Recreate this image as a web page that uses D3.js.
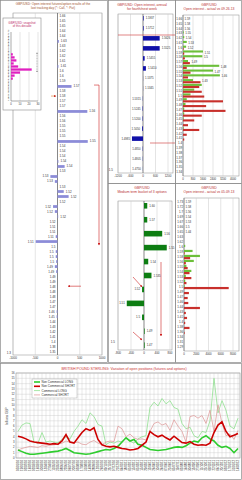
<!DOCTYPE html>
<html>
<head>
<meta charset="utf-8">
<script src="https://cdn.jsdelivr.net/npm/d3@7"></script>
<style>
body { margin: 0; background: #fff; }
svg { display: block; font-family: "Liberation Sans", Arial, sans-serif; }
</style>
</head>
<body>
<div id="T"></div>
<script>
// ---- left panel: open interest by strike of the last tracking day (call +, put -)
const leftStrikes = [
  "1.66","1.65","1.65","1.64","1.64","1.63","1.63","1.62","1.62","1.61",
  "1.61","1.6","1.6","1.59","1.57","1.58","1.58","1.57","1.57","1.56",
  "1.56","1.56","1.55","1.55","1.55","1.55","1.54","1.54","1.54","1.54",
  "1.54","1.53","1.53","1.53","1.53","1.52","1.52","1.52","1.52","1.52",
  "1.52","1.52","1.51","1.51","1.51","1.51","1.5","1.5","1.5","1.5",
  "1.49","1.49","1.49","1.49","1.48","1.48","1.48","1.47","1.47","1.46",
  "1.45","1.44","1.43","1.42","1.41","1.4","1.38","1.35"];
const leftOI = [
  0,0,0,0,0,30,0,0,0,0,
  20,0,0,0,315,0,0,0,0,670,
  0,0,0,0,0,680,0,0,0,20,
  160,0,-160,-60,0,140,250,0,-100,-60,
  15,0,0,0,-40,-490,0,-40,-40,-30,
  -60,-30,0,0,0,0,0,0,0,-20,
  -20,0,0,0,0,0,0,0];
const leftTicks = [-1000, -500, 0, 500, 1000];

// inset: snapshot of this decade
const insetLevels = ["1.72","1.7","1.68","1.66","1.64","1.62","1.6","1.58","1.56","1.54","1.52","1.5",
  "1.48","1.46","1.44","1.42","1.4","1.38","1.36","1.34","1.32","1.3","1.28"];
const insetCounts = [0,0,0,0,0,0,0,2,4,6,3,8,23,10,4,2,0,0,0,0,0,0,0];
const insetTicks = [0, 10, 20, 30];

// middle top: annual buckets
const midTopStrikes = ["1.5937","1.5712","1.5626","1.5525","1.5455","1.5410","1.5375","1.5345",
  "1.5315","1.5245","1.5200","1.5050","1.4985","1.4850","1.4805","1.4750"];
const midTopOI = [30,30,800,800,80,140,5,5,-10,-20,-20,-40,-530,-15,-10,-5];
const midTopTicks = [-1200, -600, 0, 600, 1200];

// middle bottom: medium term bucket
const midBotStrikes = ["1.60","1.57","1.56","1.55","1.54","1.535","1.52","1.51","1.5","1.49","1.47"];
const midBotOI = [100,100,560,700,130,230,-60,-530,-60,20,20];
const midBotTicks = [-800, -400, 0, 400, 800];

// right top: actual vs 09.26.13
const rtStrikes = ["1.66","1.65","1.64","1.63","1.62","1.61","1.6","1.59","1.58","1.57","1.56",
  "1.55","1.54","1.53","1.52","1.51","1.5","1.49","1.48","1.47","1.46","1.45","1.44","1.43",
  "1.42","1.41","1.4","1.39","1.38","1.37","1.36","1.35","1.34"];
const rtCalls = [0,0,0,60,100,300,250,1600,1550,400,2900,2400,2950,800,1500,900,600,300,200,100,100,50,0,50,0,0,0,0,0,0,0,0,0];
const rtPuts  = [0,0,0,0,0,0,50,100,150,550,300,600,400,1400,1300,1500,1700,3200,1850,3400,1500,900,400,1300,300,100,0,0,0,0,0,0,0];
const rtTicks = [0, 800, 1600, 2400, 3200, 4000];

// right bottom: actual vs 05.09.13
const rbStrikes = ["1.73","1.72","1.7","1.69","1.67","1.66","1.65","1.63","1.62","1.6","1.59","1.58",
  "1.56","1.55","1.54","1.53","1.52","1.5","1.49","1.47","1.46","1.44","1.43","1.41","1.4",
  "1.38","1.36","1.34","1.31","1.29"];
const rbCalls = [0,0,0,0,0,0,0,0,0,200,1400,2600,1600,400,1200,300,200,100,0,0,0,0,0,0,0,0,0,0,0,0];
const rbPuts  = [0,0,0,0,0,0,0,0,0,0,100,1000,300,600,900,1200,400,7300,800,600,700,2600,300,500,200,900,100,0,0,0];
const rbTicks = [0, 2000, 4000, 6000, 8000];

// bottom: variation of open positions (billions GBP)
const dates = ["05/01/10","19/01/10","02/02/10","16/02/10","02/03/10","16/03/10","30/03/10","13/04/10",
  "27/04/10","11/05/10","25/05/10","08/06/10","22/06/10","06/07/10","20/07/10","03/08/10","17/08/10",
  "31/08/10","14/09/10","28/09/10","12/10/10","26/10/10","09/11/10","23/11/10","07/12/10","21/12/10",
  "04/01/11","18/01/11","01/02/11","15/02/11","01/03/11","15/03/11","29/03/11","12/04/11","26/04/11",
  "10/05/11","24/05/11","07/06/11","21/06/11","05/07/11","19/07/11","02/08/11","16/08/11","30/08/11",
  "13/09/11","27/09/11","11/10/11","25/10/11","08/11/11","22/11/11","06/12/11","20/12/11","03/01/12",
  "17/01/12","31/01/12","14/02/12"];
const nonCommLong = [1.5,1.2,0.9,0.7,0.7,0.8,0.9,1.0,1.1,1.2,1.3,1.5,1.8,1.4,1.0,0.9,0.8,0.7,0.8,1.0,
  1.2,1.4,1.6,1.5,1.8,2.2,3.0,3.8,3.2,3.5,2.6,2.4,2.0,1.6,1.5,1.4,1.5,1.6,1.8,2.0,2.1,2.0,2.3,2.8,
  3.2,3.0,3.8,4.2,3.6,3.2,2.4,2.0,2.2,1.8,1.0,1.8];
const nonCommShort = [4.1,3.9,3.6,3.2,3.0,2.9,2.8,2.7,2.6,2.7,2.6,3.2,4.4,3.0,2.8,3.8,4.8,5.5,5.2,5.7,
  3.5,2.5,2.2,2.1,2.2,2.0,1.8,1.7,1.5,1.6,1.8,2.4,3.0,5.0,4.4,4.0,4.3,3.8,3.4,4.1,3.5,2.9,2.8,3.1,
  2.6,2.4,2.5,2.4,2.8,4.8,6.2,6.8,5.0,4.0,4.3,4.6];
const commLong = [5.0,6.2,6.6,6.5,3.0,2.8,4.8,3.0,3.2,3.0,2.9,3.5,4.0,3.6,5.0,6.0,7.2,6.5,8.5,7.8,
  6.3,6.0,2.5,3.0,2.8,3.2,3.0,3.8,3.2,2.8,3.6,4.0,4.2,9.5,10.5,9.8,11.2,10.2,10.8,9.5,9.2,6.5,5.5,5.8,
  4.2,3.8,5.0,4.8,7.0,15.0,8.5,10.8,9.0,6.0,5.5,7.5];
const commShort = [1.5,1.8,2.0,2.2,2.1,2.0,2.3,2.2,2.4,2.5,2.6,2.8,3.2,3.0,2.9,3.0,2.6,2.5,3.0,3.3,
  2.8,2.5,3.0,3.2,3.1,6.0,5.5,4.0,4.5,3.8,3.5,3.6,3.4,5.0,6.5,6.8,6.2,6.5,5.2,7.2,6.0,5.0,3.0,7.8,
  8.0,7.5,8.0,6.5,9.0,5.0,10.0,6.5,4.2,4.5,3.5,5.2];
const seriesNames = ["Non Commercial LONG","Non Commercial SHORT","Commercial LONG","Commercial SHORT"];
const yTicksBottom = d3.range(0, 17);

const W = 242, H = 480;
const svg = d3.select('#T').append('svg').attr('width', W).attr('height', H);
const GRID = '#c8c8c8', BORDER = '#8a8a8a', TXT = '#333', TITLE = '#b83030';

// panel frames
const frames = [[0.5,0.5,107,362],[108.5,0.5,67,183],[108.5,183.5,67,179],[175.5,0.5,66,183],[175.5,183.5,66,179],[0.5,363.5,241,116]];
svg.selectAll('rect.frame').data(frames).join('rect')
  .attr('x', d => d[0]).attr('y', d => d[1]).attr('width', d => d[2]).attr('height', d => d[3])
  .attr('fill', 'none').attr('stroke', BORDER).attr('stroke-width', 0.7);

svg.append('defs').append('marker').attr('id', 'arr').attr('viewBox', '0 0 10 10')
  .attr('refX', 9).attr('refY', 5).attr('markerWidth', 4).attr('markerHeight', 4).attr('orient', 'auto')
  .append('path').attr('d', 'M0,0L10,5L0,10z').attr('fill', '#cc2222');

function title(x, y, lines, color, size) {
  const t = svg.append('text').attr('x', x).attr('y', y).attr('text-anchor', 'middle')
    .attr('font-size', size || 3.4).attr('fill', color || TITLE);
  lines.forEach((l, i) => t.append('tspan').attr('x', x).attr('dy', i ? (size || 3.4) * 1.15 : 0).text(l));
}

// horizontal bar panel, call/put signed values around a zero axis
function signedPanel(o) {
  const x = d3.scaleLinear().domain(o.domain).range([o.x0, o.x1]);
  const y = d3.scaleBand().domain(d3.range(o.labels.length)).range([o.y0, o.y1]).paddingInner(o.pad);
  const g = svg.append('g');
  g.append('rect').attr('x', o.bx0).attr('y', o.y0 - 2).attr('width', o.bx1 - o.bx0).attr('height', o.y1 - o.y0 + 4)
    .attr('fill', 'none').attr('stroke', BORDER).attr('stroke-width', 0.5);
  g.selectAll('line.grid').data(o.ticks).join('line')
    .attr('x1', d => x(d)).attr('x2', d => x(d)).attr('y1', o.y0 - 2).attr('y2', o.y1 + 2)
    .attr('stroke', d => d === 0 ? '#555' : GRID).attr('stroke-width', d => d === 0 ? 0.7 : 0.5);
  g.selectAll('text.tick').data(o.ticks).join('text')
    .attr('x', d => x(d)).attr('y', o.y1 + 6).attr('text-anchor', 'middle')
    .attr('font-size', 3).attr('fill', TXT).text(d => d);
  g.selectAll('rect.bar').data(o.values).join('rect')
    .attr('x', d => Math.min(x(0), x(d))).attr('y', (d, i) => y(i))
    .attr('width', d => Math.abs(x(d) - x(0))).attr('height', y.bandwidth())
    .attr('fill', o.color);
  g.selectAll('text.lab').data(o.values).join('text')
    .attr('x', (d, i) => (d < 0 || (d === 0 && i >= o.leftFrom)) ? x(Math.min(d, 0)) - 2 : x(Math.max(d, 0)) + 2)
    .attr('y', (d, i) => y(i) + y.bandwidth() / 2 + 1)
    .attr('text-anchor', (d, i) => (d < 0 || (d === 0 && i >= o.leftFrom)) ? 'end' : 'start')
    .attr('font-size', o.fs).attr('fill', TXT).text((d, i) => o.labels[i]);
  return { x, y };
}

// call/put stacked-in-row panel (green call, red put)
function cpPanel(o) {
  const x = d3.scaleLinear().domain([0, o.ticks[o.ticks.length - 1]]).range([o.x0, o.x1]);
  const y = d3.scaleBand().domain(d3.range(o.labels.length)).range([o.y0, o.y1]).paddingInner(0.12);
  const g = svg.append('g');
  g.append('rect').attr('x', o.x0).attr('y', o.y0 - 2).attr('width', o.bx1 - o.x0).attr('height', o.y1 - o.y0 + 4)
    .attr('fill', 'none').attr('stroke', BORDER).attr('stroke-width', 0.5);
  g.selectAll('line.grid').data(o.ticks).join('line')
    .attr('x1', d => x(d)).attr('x2', d => x(d)).attr('y1', o.y0 - 2).attr('y2', o.y1 + 2)
    .attr('stroke', d => d === 0 ? '#555' : GRID).attr('stroke-width', 0.5);
  g.selectAll('text.tick').data(o.ticks).join('text')
    .attr('x', d => x(d)).attr('y', o.y1 + 6).attr('text-anchor', 'middle')
    .attr('font-size', 2.8).attr('fill', TXT).text(d => d);
  g.selectAll('text.ylab').data(o.labels).join('text')
    .attr('x', o.x0 - 1).attr('y', (d, i) => y(i) + y.bandwidth() / 2 + 1)
    .attr('text-anchor', 'end').attr('font-size', 2.9).attr('fill', TXT).text(d => d);
  const h = y.bandwidth() / 2;
  g.selectAll('rect.call').data(o.calls).join('rect')
    .attr('x', x(0)).attr('y', (d, i) => y(i)).attr('width', d => x(d) - x(0)).attr('height', h)
    .attr('fill', '#6cbf3a');
  g.selectAll('rect.put').data(o.puts).join('rect')
    .attr('x', x(0)).attr('y', (d, i) => y(i) + h).attr('width', d => x(d) - x(0)).attr('height', h)
    .attr('fill', '#c8302c');
  g.selectAll('text.blab').data(o.labels).join('text')
    .filter((d, i) => Math.max(o.calls[i], o.puts[i]) >= 1000)
    .attr('x', (d, i) => x(Math.max(o.calls[i], o.puts[i])) + 1.5)
    .attr('y', (d, i) => y(i) + y.bandwidth() / 2 + 1)
    .attr('font-size', 2.9).attr('fill', TXT).text(d => d);
}

// ---------- left panel
title(53, 5, ["GBP/USD: Open interest futures/option results of the", "last tracking day (*: Call, *: Put)"], '#a0522d', 3.2);
const L = signedPanel({ domain: [-1000, 1000], x0: 13, x1: 102, bx0: 13, bx1: 102, y0: 15, y1: 353,
  labels: leftStrikes, values: leftOI, ticks: leftTicks, color: '#8c8cd8', pad: 0.45, fs: 3, leftFrom: 41 });
svg.append('text').attr('x', 11).attr('y', 354).attr('text-anchor', 'end').attr('font-size', 3).attr('fill', TXT).text('1.3');
// markers of the current price
svg.append('line').attr('x1', 51).attr('x2', 56).attr('y1', L.y(16) + 1).attr('y2', L.y(16) + 1)
  .attr('stroke', '#dd7722').attr('stroke-width', 0.6).attr('marker-end', 'url(#arr)');
svg.append('line').attr('x1', 81).attr('x2', 68).attr('y1', L.y(54) + 1).attr('y2', L.y(54) + 1)
  .attr('stroke', '#cc2222').attr('stroke-width', 0.6).attr('marker-end', 'url(#arr)');
svg.append('line').attr('x1', 94).attr('x2', 99).attr('y1', L.y(14)).attr('y2', L.y(14))
  .attr('stroke', '#cc2222').attr('stroke-width', 0.6);
svg.append('line').attr('x1', 99).attr('x2', 99).attr('y1', L.y(14)).attr('y2', L.y(46))
  .attr('stroke', '#cc2222').attr('stroke-width', 0.6).attr('marker-end', 'url(#arr)');

// inset
svg.append('rect').attr('x', 3).attr('y', 18).attr('width', 38).attr('height', 92)
  .attr('fill', '#fff').attr('stroke', BORDER).attr('stroke-width', 0.6);
title(22, 23.5, ["GBP/USD: snapshot", "of this decade"], '#c0306a', 3);
const ix = d3.scaleLinear().domain([0, 30]).range([11, 38]);
const iy = d3.scaleBand().domain(d3.range(insetLevels.length)).range([32, 101]).paddingInner(0.25);
svg.selectAll('line.igrid').data(insetTicks).join('line')
  .attr('x1', d => ix(d)).attr('x2', d => ix(d)).attr('y1', 32).attr('y2', 101)
  .attr('stroke', d => d === 0 ? '#555' : GRID).attr('stroke-width', 0.5);
svg.append('line').attr('x1', 11).attr('x2', 38).attr('y1', 101).attr('y2', 101).attr('stroke', '#555').attr('stroke-width', 0.5);
svg.selectAll('text.itick').data(insetTicks).join('text')
  .attr('x', d => ix(d)).attr('y', 105).attr('text-anchor', 'middle').attr('font-size', 2.6).attr('fill', TXT).text(d => d);
svg.selectAll('text.ilev').data(insetLevels).join('text')
  .attr('transform', (d, i) => `translate(9,${iy(i) + iy.bandwidth()}) rotate(-90)`)
  .attr('font-size', 2.4).attr('fill', TXT).text(d => d);
svg.selectAll('rect.ibar').data(insetCounts).join('rect')
  .attr('x', ix(0)).attr('y', (d, i) => iy(i)).attr('width', d => ix(d) - ix(0)).attr('height', iy.bandwidth())
  .attr('fill', '#e020c0');
svg.append('line').attr('x1', 37).attr('x2', 37).attr('y1', iy(7)).attr('y2', iy(13))
  .attr('stroke', '#666').attr('stroke-width', 0.5).attr('stroke-dasharray', '1,0.6');
[7, 13].forEach(i => svg.append('line').attr('x1', 36).attr('x2', 38).attr('y1', iy(i)).attr('y2', iy(i))
  .attr('stroke', '#666').attr('stroke-width', 0.5));

// ---------- middle top
title(142, 6, ["GBP/USD: Open interest, annual", "for fourth/next week"]);
const MT = signedPanel({ domain: [-1200, 1200], x0: 118, x1: 168, bx0: 118, bx1: 173, y0: 16, y1: 171,
  labels: midTopStrikes, values: midTopOI, ticks: midTopTicks, color: '#1010a8', pad: 0.55, fs: 2.8, leftFrom: 8 });
svg.append('text').attr('x', 113).attr('y', 171).attr('text-anchor', 'end').attr('font-size', 3).attr('fill', TXT).text('1.5');
svg.append('line').attr('x1', 118).attr('x2', 175).attr('y1', 35).attr('y2', 35).attr('stroke', '#cc3333').attr('stroke-width', 0.6);
svg.append('line').attr('x1', 150).attr('x2', 175).attr('y1', 143).attr('y2', 143).attr('stroke', '#cc3333').attr('stroke-width', 0.6);

// ---------- middle bottom
title(142, 189, ["GBP/USD", "Medium term bucket of 3 options"]);
const MB = signedPanel({ domain: [-800, 800], x0: 118, x1: 170, bx0: 118, bx1: 172, y0: 203, y1: 348,
  labels: midBotStrikes, values: midBotOI, ticks: midBotTicks, color: '#0d7d12', pad: 0.6, fs: 2.9, leftFrom: 6 });
svg.append('text').attr('x', 115).attr('y', 343).attr('text-anchor', 'end').attr('font-size', 3).attr('fill', TXT).text('1.5');
svg.append('line').attr('x1', 133).attr('y1', 277).attr('x2', 142).attr('y2', 287)
  .attr('stroke', '#cc2222').attr('stroke-width', 0.6).attr('marker-end', 'url(#arr)');
svg.append('line').attr('x1', 133).attr('y1', 332).attr('x2', 142).attr('y2', 340)
  .attr('stroke', '#cc2222').attr('stroke-width', 0.6).attr('marker-end', 'url(#arr)');
svg.append('line').attr('x1', 161).attr('y1', 262).attr('x2', 161).attr('y2', 336)
  .attr('stroke', '#cc2222').attr('stroke-width', 0.6).attr('marker-end', 'url(#arr)');

// ---------- right panels
title(209, 6, ["GBP/USD", "Open interest - actual vs 09.26.13"]);
cpPanel({ x0: 183, x1: 233, bx1: 239, y0: 17, y1: 174, labels: rtStrikes, calls: rtCalls, puts: rtPuts, ticks: rtTicks });
title(209, 189, ["GBP/USD", "Open interest - actual vs 05.09.13"]);
cpPanel({ x0: 184, x1: 233, bx1: 239, y0: 200, y1: 349, labels: rbStrikes, calls: rbCalls, puts: rbPuts, ticks: rbTicks });

// ---------- bottom time series
title(124, 369.5, ["BRITISH POUND STERLING: Variation of open positions (futures and options)"], '#cc3333', 3.6);
const bx = d3.scalePoint().domain(dates).range([18, 238]);
const by = d3.scaleLinear().domain([0, 16]).range([458, 373]);
const bg = svg.append('g');
bg.append('rect').attr('x', 16).attr('y', 373).attr('width', 224).attr('height', 85)
  .attr('fill', '#fff').attr('stroke', '#777').attr('stroke-width', 0.5);
bg.selectAll('line.hg').data(yTicksBottom).join('line')
  .attr('x1', 16).attr('x2', 240).attr('y1', d => by(d)).attr('y2', d => by(d))
  .attr('stroke', GRID).attr('stroke-width', 0.4);
bg.selectAll('line.vg').data(dates).join('line')
  .attr('x1', d => bx(d)).attr('x2', d => bx(d)).attr('y1', 373).attr('y2', 458)
  .attr('stroke', GRID).attr('stroke-width', 0.4);
bg.selectAll('text.yt').data(yTicksBottom).join('text')
  .attr('x', 14.5).attr('y', d => by(d) + 1).attr('text-anchor', 'end')
  .attr('font-size', 2.8).attr('fill', TXT).text(d => d);
bg.append('text').attr('transform', 'translate(8,416) rotate(-90)').attr('text-anchor', 'middle')
  .attr('font-size', 3.2).attr('fill', TXT).text('billions GBP');
bg.selectAll('text.xt').data(dates).join('text')
  .attr('transform', d => `translate(${bx(d) + 1},460) rotate(-90)`).attr('text-anchor', 'end')
  .attr('font-size', 2.8).attr('fill', TXT).text(d => d);

const series = [
  { name: seriesNames[2], values: commLong, color: '#8fe08f', w: 0.8 },
  { name: seriesNames[3], values: commShort, color: '#e0a0a0', w: 0.8 },
  { name: seriesNames[0], values: nonCommLong, color: '#2ecc2e', w: 1.6 },
  { name: seriesNames[1], values: nonCommShort, color: '#cc0000', w: 1.6 }
];
const line = d3.line().x((d, i) => bx(dates[i])).y(d => by(d));
bg.selectAll('path.s').data(series).join('path')
  .attr('d', d => line(d.values)).attr('fill', 'none')
  .attr('stroke', d => d.color).attr('stroke-width', d => d.w);

// legend
const legOrder = [series[2], series[3], series[0], series[1]];
const lg = bg.append('g').attr('transform', 'translate(32,379)');
lg.append('rect').attr('width', 45).attr('height', 19).attr('fill', '#fff').attr('stroke', '#999').attr('stroke-width', 0.4);
legOrder.forEach((s, i) => {
  lg.append('line').attr('x1', 2).attr('x2', 8).attr('y1', 3 + i * 4.3).attr('y2', 3 + i * 4.3)
    .attr('stroke', s.color).attr('stroke-width', s.w);
  lg.append('text').attr('x', 9.5).attr('y', 4.1 + i * 4.3).attr('font-size', 3).attr('fill', TXT).text(s.name);
});
</script>
</body>
</html>
